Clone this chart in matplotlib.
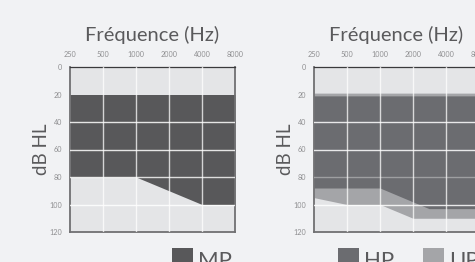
import matplotlib
matplotlib.use("Agg")
import matplotlib.pyplot as plt
from matplotlib.patches import Rectangle

# ---- data ----
freqs = [250, 500, 1000, 2000, 4000, 8000]
freq_labels = ["250", "500", "1000", "2000", "4000", "8000"]
db_ticks = [0, 20, 40, 60, 80, 100, 120]

mp_upper = [20, 20, 20, 20, 20, 20]
mp_lower = [80, 80, 80, 90, 100, 100]

hp_freqs = [250, 500, 1000, 2800, 4000, 8000]
hp_upper = [21, 21, 21, 21, 21, 21]
hp_lower = [88, 88, 88, 103, 103, 103]

up_freqs = [250, 500, 1000, 2000, 4000, 8000]
up_upper = [19, 19, 19, 19, 19, 19]
up_lower = [95, 100, 100, 110, 110, 110]

title_text = "Fréquence (Hz)"
ylabel_text = "dB HL"

# ---- style ----
FIG_BG = "#f1f2f4"
AX_BG = "#e4e5e7"
MP_COL = "#58585a"
HP_COL = "#6b6c70"
UP_COL = "#a4a5a8"
TXT = "#5a5a5c"
TICK = "#8f8f91"
FONT = ["Lato", "DejaVu Sans"]

plt.rcParams["font.family"] = FONT

fig = plt.figure(figsize=(4.75, 2.62), dpi=100, facecolor=FIG_BG)
W, H = 475, 262


def make_ax(left_px):
    ax = fig.add_axes([left_px / W, (H - 232) / H, 165 / W, 165 / H])
    ax.set_facecolor(AX_BG)
    ax.set_xscale("log", base=2)
    ax.set_xlim(250, 8000)
    ax.set_ylim(120, 0)
    ax.xaxis.tick_top()
    ax.set_xticks(freqs)
    ax.set_xticklabels(freq_labels)
    ax.minorticks_off()
    ax.set_yticks(db_ticks)
    ax.tick_params(axis="both", length=0, labelsize=5.2, colors=TICK)
    ax.tick_params(axis="x", pad=6.5)
    ax.tick_params(axis="y", pad=5.5)
    for s in ax.spines.values():
        s.set_color("#707072")
        s.set_linewidth(1.3)
    ax.spines["top"].set_color("#3a3a3c")
    ax.spines["top"].set_linewidth(0.9)
    ax.set_title(title_text, fontsize=14.5, color=TXT, pad=7.5)
    ax.set_ylabel(ylabel_text, fontsize=13.5, color=TXT, labelpad=0)
    return ax


def grid(ax, a80=0.8):
    for f in freqs[1:-1]:
        ax.axvline(f, color="white", lw=1.0, alpha=0.75, zorder=5)
    for d in [40, 60, 80, 100]:
        ax.axhline(d, color="white", lw=1.0, alpha=(a80 if d == 80 else 0.85), zorder=5)


ax1 = make_ax(70)
ax1.fill_between(freqs, mp_upper, mp_lower, color=MP_COL, lw=0, zorder=2)
grid(ax1)

ax2 = make_ax(314)
ax2.fill_between(up_freqs, up_upper, up_lower, color=UP_COL, lw=0, zorder=2)
ax2.fill_between(hp_freqs, hp_upper, hp_lower, color=HP_COL, lw=0, zorder=3)
grid(ax2, a80=0.35)

# ---- legends ----
def legend_item(x_px, col, label):
    fig.patches.append(Rectangle((x_px / W, 0), 21 / W, (H - 248) / H,
                                 transform=fig.transFigure, color=col, lw=0))
    fig.text((x_px + 26) / W, (H - 251) / H, label, fontsize=16, color=TXT,
             va="top", ha="left")

legend_item(172, MP_COL, "MP")
legend_item(338, HP_COL, "HP")
legend_item(423, UP_COL, "UP")

fig.savefig("out.png", dpi=100, facecolor=FIG_BG)
